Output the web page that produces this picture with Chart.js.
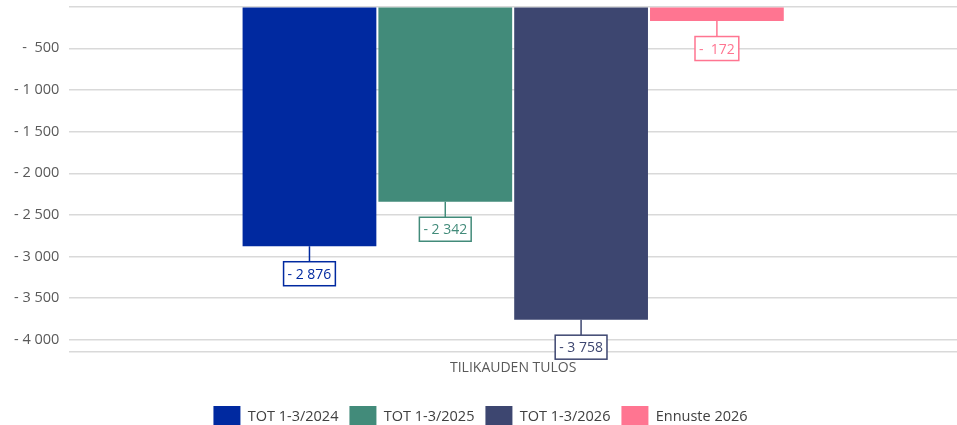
<!DOCTYPE html>
<html><head><meta charset="utf-8">
<script src="https://cdn.jsdelivr.net/npm/chart.js@4/dist/chart.umd.min.js"></script>
<style>html,body{margin:0;padding:0;background:#fff;overflow:hidden;width:957px;height:425px}#w{position:relative;width:957px;height:449px;margin-top:-12px}</style>
</head><body><div id="w"><canvas id="c"></canvas></div>
<script>
const categories = ['TILIKAUDEN TULOS'];
const seriesNames = ['TOT 1-3/2024', 'TOT 1-3/2025', 'TOT 1-3/2026', 'Ennuste 2026'];
const tot2024 = [-2876];
const tot2025 = [-2342];
const tot2026 = [-3758];
const ennuste2026 = [-172];
const seriesColors = ['#0029A0', '#428B7A', '#3D4670', '#FF7591'];
const yTicks = [0, -500, -1000, -1500, -2000, -2500, -3000, -3500, -4000];

function fmt(v){
  const a = Math.abs(Math.round(v));
  const s = a.toString().replace(/\B(?=(\d{3})+(?!\d))/g, ' ');
  return (v < 0 ? (a < 1000 ? '-  ' : '- ') : '') + s;
}

const labelPlugin = {
  id: 'boxLabels',
  afterDatasetsDraw(chart){
    const ctx = chart.ctx;
    ctx.save();
    ctx.font = '14px "Open Sans"';
    chart.data.datasets.forEach((ds, i) => {
      const meta = chart.getDatasetMeta(i);
      meta.data.forEach((bar, j) => {
        const v = ds.data[j];
        const txt = fmt(v);
        const x = bar.x, yb = bar.y;
        const w = ctx.measureText(txt).width + 8;
        const h = 24;
        const top = yb + 15.5;
        ctx.strokeStyle = ds.backgroundColor;
        ctx.lineWidth = 1.5;
        ctx.beginPath(); ctx.moveTo(x, yb); ctx.lineTo(x, top); ctx.stroke();
        ctx.fillStyle = '#fff';
        ctx.fillRect(x - w/2, top, w, h);
        ctx.strokeRect(x - w/2, top, w, h);
        ctx.fillStyle = ds.backgroundColor;
        ctx.textAlign = 'center'; ctx.textBaseline = 'middle';
        ctx.fillText(txt, x, top + h/2 + 1);
      });
    });
    ctx.restore();
  }
};

const datasetsData = [tot2024, tot2025, tot2026, ennuste2026];
new Chart(document.getElementById('c'), {
  type: 'bar',
  data: {
    labels: categories,
    datasets: seriesNames.map((n, i) => ({
      label: n, data: datasetsData[i], backgroundColor: seriesColors[i],
      borderWidth: 0, categoryPercentage: 0.612, barPercentage: 0.985
    }))
  },
  options: {
    responsive: true, maintainAspectRatio: false, animation: false,
    layout: { padding: { top: 2, right: 0, left: 4, bottom: 0 } },
    plugins: {
      tooltip: { enabled: false },
      legend: {
        position: 'bottom',
        labels: { color: '#404040', font: { family: '"Open Sans"', size: 14.5 }, boxWidth: 27, boxHeight: 21, padding: 11 }
      }
    },
    scales: {
      x: {
        grid: { display: false },
        border: { display: true, color: '#d9d9d9', width: 1.5 },
        ticks: { color: '#595959', font: { family: '"Open Sans"', size: 14 }, padding: 0 },
        afterFit(s){ s.height = 43.5; }
      },
      y: {
        min: -4140, max: 0,
        afterBuildTicks(ax){ ax.ticks = yTicks.map(v => ({ value: v })); },
        grid: { color: '#d9d9d9', lineWidth: 1.5, drawTicks: false },
        border: { display: false },
        ticks: {
          color: '#595959', font: { family: '"Open Sans"', size: 14.5 }, padding: 10,
          callback: v => v === 0 ? '' : fmt(v)
        }
      }
    }
  },
  plugins: [labelPlugin]
});
</script></body></html>
